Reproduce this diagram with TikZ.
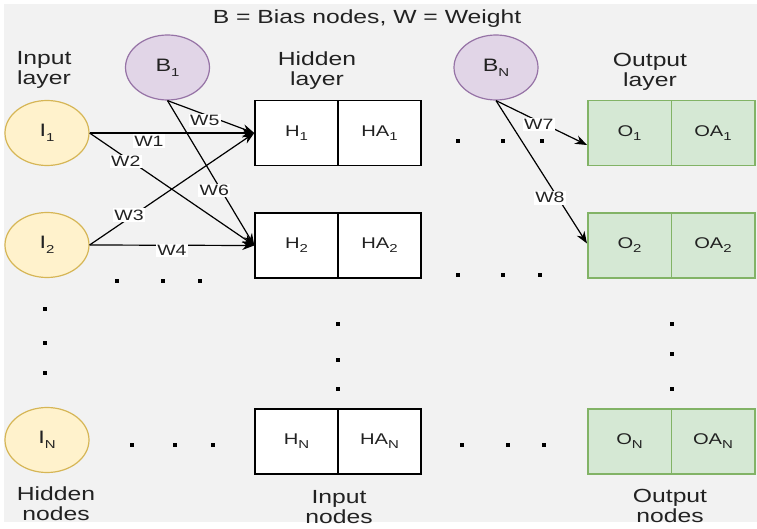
\documentclass[tikz,border=0pt]{standalone}
\usepackage{fontspec}
\setmainfont{Liberation Sans}[FakeStretch=1.3]
\usetikzlibrary{shapes.geometric,arrows.meta}
\definecolor{bgc}{HTML}{F2F2F2}
\definecolor{inb}{HTML}{D6B656}
\definecolor{inf}{HTML}{FFF2CC}
\definecolor{bib}{HTML}{9673A6}
\definecolor{bif}{HTML}{E1D5E7}
\definecolor{outb}{HTML}{82B366}
\definecolor{outf}{HTML}{D5E8D4}
\definecolor{txt}{HTML}{222222}
\newcommand\sbs[1]{\raisebox{-0.5ex}{\fontsize{11.5}{11.5}\selectfont #1}}
\tikzset{
  inode/.style={ellipse, draw=inb, fill=inf, line width=1.2pt, minimum width=84pt, minimum height=65pt, inner sep=0pt, font=\fontsize{18}{20}\selectfont, text=txt},
  bnode/.style={inode, draw=bib, fill=bif},
  cell/.style={rectangle, draw=black, fill=white, line width=1.5pt, minimum width=83pt, minimum height=65pt, inner sep=0pt, font=\fontsize{15.5}{17}\selectfont, text=txt},
  ocell/.style={cell, draw=outb, fill=outf, minimum width=83.5pt},
  wlabel/.style={fill=white, inner sep=1.5pt, font=\fontsize{15}{17}\selectfont, text=txt},
  conn/.style={line width=1.2pt, -{Stealth[length=12pt,width=9pt]}},
  caption/.style={align=center, font=\fontsize{19}{20}\selectfont, text=txt},
  dotmark/.style={fill=black}
}
\begin{document}
\begin{tikzpicture}[x=1pt,y=-1pt]
\useasboundingbox (0,0) rectangle (757,529);
\fill[bgc] (4,4) rectangle (757,522);

% title and captions
\node[caption] (title) at (367,19) {B = Bias nodes, W = Weight};
\node[caption] (inlayer) at (44,70) {Input\\layer};
\node[caption] (hidlayer) at (317,71) {Hidden\\layer};
\node[caption] (outlayer) at (650,72) {Output\\layer};
\node[caption] (hidnodes) at (56,504) {Hidden\\nodes};
\node[caption] (innodes) at (339,507) {Input\\nodes};
\node[caption] (outnodes) at (670,506) {Output\\nodes};

% input ellipses
\node[inode] (I1) at (47,133) {I\sbs{1}};
\node[inode] (I2) at (47,245) {I\sbs{2}};
\node[inode] (IN) at (47,440) {I\sbs{N}};
% bias
\node[bnode] (B1) at (167.5,67.5) {B\sbs{1}};
\node[bnode] (BN) at (496,67.5) {B\sbs{N}};

% hidden cells
\node[cell] (H1) at (296.5,133) {H\sbs{1}};
\node[cell] (HA1) at (379.5,133) {HA\sbs{1}};
\node[cell] (H2) at (296.5,245.5) {H\sbs{2}};
\node[cell] (HA2) at (379.5,245.5) {HA\sbs{2}};
\node[cell] (HN) at (296.5,441.5) {H\sbs{N}};
\node[cell] (HAN) at (379.5,441.5) {HA\sbs{N}};

% output cells
\node[ocell] (O1) at (629.5,133) {O\sbs{1}};
\node[ocell] (OA1) at (713,133) {OA\sbs{1}};
\node[ocell] (O2) at (629.5,245.5) {O\sbs{2}};
\node[ocell] (OA2) at (713,245.5) {OA\sbs{2}};
\node[ocell] (ON) at (629.5,441.5) {O\sbs{N}};
\node[ocell] (OAN) at (713,441.5) {OA\sbs{N}};

% connectors
\draw[conn, line width=2.6pt] (I1.east) -- (H1.west) node[wlabel, pos=0.36, yshift=-8pt] (w1) {W1};
\draw[conn] (I1.east) -- (H2.west) node[wlabel, pos=0.22, yshift=-4pt] (w2) {W2};
\draw[conn] (I2.east) -- (H1.west) node[wlabel, pos=0.24, yshift=3pt] (w3) {W3};
\draw[conn] (I2.east) -- (H2.west) node[wlabel, pos=0.5, yshift=-5pt] (w4) {W4};
\draw[conn] (B1.south) -- (H1.west) node[wlabel, pos=0.43, yshift=-6pt] (w5) {W5};
\draw[conn] (B1.south) -- (H2.west) node[wlabel, pos=0.62, xshift=-7pt] (w6) {W6};
\draw[conn] (BN.south) -- ([yshift=-12pt]O1.west) node[wlabel, pos=0.47, yshift=-3pt] (w7) {W7};
\draw[conn] (BN.south) -- ([yshift=2pt]O2.west) node[wlabel, pos=0.68, xshift=-8pt] (w8) {W8};

% ellipsis dots
\foreach \x/\y in {458/141,503/141,542/141,
                   458/275,503/275,540/275,
                   117/281,163/281,200/281,
                   45/309,45/343,45/373,
                   338/324,338/360,338/389,
                   672/324,672/354,672/389,
                   132/445,175/445,213/445,
                   462/445,508/445,544/445}
  \fill[dotmark] (\x-1.6,\y-1.6) rectangle (\x+1.6,\y+1.6);
\end{tikzpicture}
\end{document}
